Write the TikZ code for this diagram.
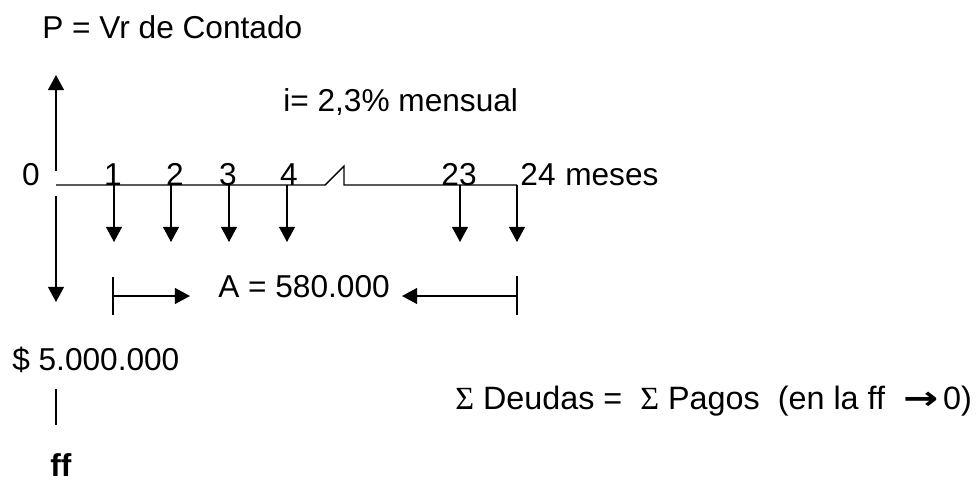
\documentclass[tikz,border=0pt]{standalone}
\usepackage{fontspec}
\setmainfont{Liberation Sans}
\newfontfamily\sigmafont{Liberation Serif}
\newfontfamily\arrowfont{DejaVu Sans}
\usetikzlibrary{arrows.meta}

\begin{document}
\begin{tikzpicture}[
    x=0.25mm, y=-0.25mm,
    lbl/.style={inner sep=0pt, font=\fontsize{22.5}{26}\selectfont},
    arr/.style={-{Triangle[length=3.8mm, width=4mm]}, line width=1pt},
    plain/.style={line width=1pt}
  ]
    \useasboundingbox (0,0) rectangle (976,482);

    % textos
    \node[lbl, anchor=base west] (pval) at (42,38) {P = Vr de Contado};
    \node[lbl, anchor=base west] (rate) at (283,111) {i= 2,3\% mensual};
    \node[lbl, anchor=base] (m0) at (31,185) {0};
    \node[lbl, anchor=base west] (unit) at (565,185) {meses};
    \node[lbl, anchor=base west] (cuota) at (218,297) {A = 580.000};
    \node[lbl, anchor=base west] (deuda) at (12,370) {\$ 5.000.000};
    \node[lbl, anchor=base west, font=\fontsize{22.5}{26}\selectfont\bfseries] (ff) at (50,476) {ff};
    \node[lbl, anchor=base west, font=\fontsize{23}{26}\selectfont] (eq) at (455,409)
      {{\sigmafont Σ}\ Deudas =\ \ {\sigmafont Σ} Pagos\ \ (en la ff\ \ \scalebox{1.3}[1]{\arrowfont\bfseries →}\hspace{1.2mm}0)};

    % pagos mensuales
    \foreach \x/\lx/\n in {114/113/1, 171/175/2, 229/228/3, 287/289/4, 460/459/23, 517/538/24} {
      \coordinate (t\n) at (\x,185);
      \coordinate (p\n) at (\x,242);
      \node[lbl, anchor=base] (m\n) at (\lx,185) {\n};
      \draw[arr] (t\n) -- (p\n);
    }

    % eje de tiempo con corte
    \coordinate (o) at (56,185);
    \draw[plain] (o) -- (325,185) -- (344,166) -- (344,185) -- (t24);

    % flujo en 0
    \coordinate (up0) at (56,171);
    \coordinate (top0) at (56,75);
    \coordinate (lo0) at (56,196);
    \coordinate (bot0) at (56,302);
    \draw[arr] (up0) -- (top0);
    \draw[arr] (lo0) -- (bot0);

    % rango de la anualidad
    \coordinate (la) at (113,296);
    \coordinate (ra) at (517,296);
    \coordinate (lt) at (190,296);
    \coordinate (rt) at (402,296);
    \draw[plain] (113,277) -- (113,315);
    \draw[plain] (517,276) -- (517,315);
    \draw[arr] (la) -- (lt);
    \draw[arr] (ra) -- (rt);

    % fecha focal
    \coordinate (fa) at (56,389);
    \coordinate (fb) at (56,425);
    \draw[plain] (fa) -- (fb);
\end{tikzpicture}
\end{document}
